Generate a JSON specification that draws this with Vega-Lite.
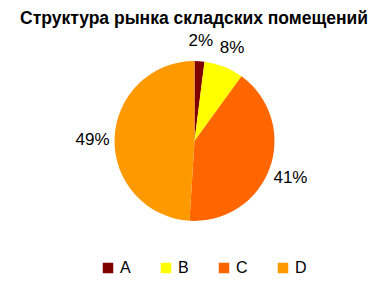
{
  "$schema": "https://vega.github.io/schema/vega-lite/v6.json",
  "width": 353,
  "height": 222,
  "autosize": {"type": "none"},
  "padding": {"left": 18, "top": 30, "right": 0, "bottom": 31},
  "background": "white",
  "title": {
    "text": "Структура рынка складских помещений",
    "font": "Liberation Sans",
    "fontSize": 17.5,
    "fontWeight": "bold",
    "color": "black",
    "anchor": "start",
    "frame": "group",
    "dx": 2,
    "offset": 3
  },
  "data": {
    "values": [
      {"category": "A", "share": 0.02},
      {"category": "B", "share": 0.08},
      {"category": "C", "share": 0.41},
      {"category": "D", "share": 0.49}
    ]
  },
  "encoding": {
    "theta": {"field": "share", "type": "quantitative", "stack": true},
    "order": {"field": "category", "type": "nominal"},
    "color": {
      "field": "category",
      "type": "nominal",
      "sort": ["A", "B", "C", "D"],
      "scale": {"domain": ["A", "B", "C", "D"], "range": ["#800000", "#FFFF00", "#FF6600", "#FF9900"]},
      "legend": {
        "title": null,
        "orient": "none",
        "direction": "horizontal",
        "legendX": 82,
        "legendY": 230,
        "symbolType": "square",
        "symbolSize": 110,
        "symbolStrokeWidth": 0,
        "symbolOpacity": 1,
        "labelFont": "Liberation Sans",
        "labelFontSize": 16,
        "labelColor": "black",
        "labelOffset": 4,
        "columnPadding": 27,
        "padding": 0
      }
    }
  },
  "layer": [
    {"mark": {"type": "arc", "outerRadius": 80}},
    {
      "mark": {"type": "text", "radius": 102, "dy": 2, "font": "Liberation Sans", "fontSize": 17, "color": "black", "align": "center", "baseline": "middle"},
      "encoding": {
        "text": {"field": "share", "type": "quantitative", "format": ".0%"},
        "color": {"value": "black"}
      }
    }
  ],
  "config": {"view": {"stroke": null}}
}
